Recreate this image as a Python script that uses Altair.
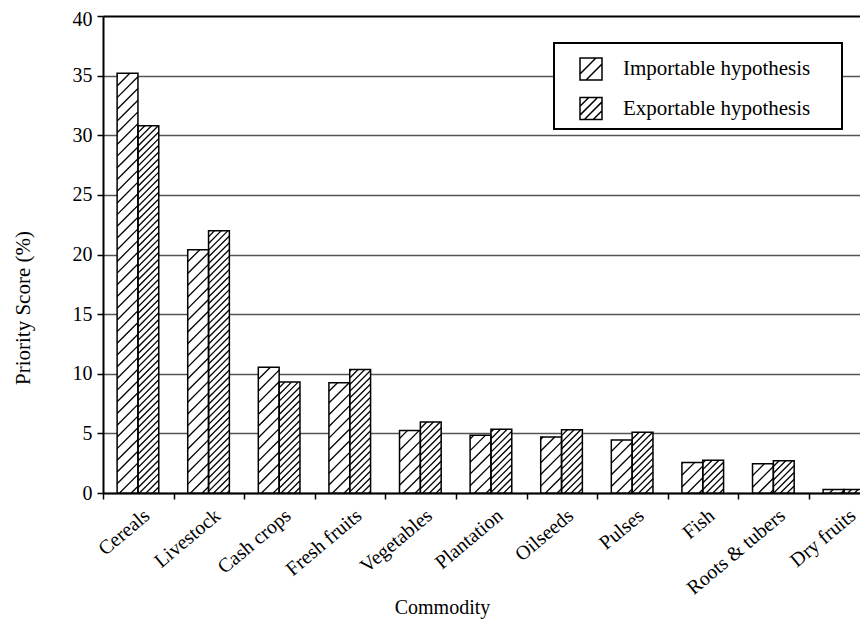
import json
import math

import altair as alt
import pandas as pd

# ---------------- data ----------------
categories = ["Cereals", "Livestock", "Cash crops", "Fresh fruits", "Vegetables",
              "Plantation", "Oilseeds", "Pulses", "Fish", "Roots & tubers", "Dry fruits"]
series = ["Importable hypothesis", "Exportable hypothesis"]
importable = [35.2, 20.4, 10.55, 9.25, 5.25, 4.85, 4.7, 4.45, 2.55, 2.45, 0.3]
exportable = [30.8, 22.0, 9.3, 10.35, 5.95, 5.35, 5.3, 5.1, 2.75, 2.7, 0.3]
y_ticks = [0, 5, 10, 15, 20, 25, 30, 35, 40]

# ---------------- layout / style ----------------
FONT = "Liberation Serif"
W, H = 757, 477            # plot area (right part of the figure is cut by the window)
GROUP_PX = 70.6            # pixel width of one commodity group
XMAX = W / GROUP_PX
YMAX = 40
PX_X = GROUP_PX
PX_Y = H / YMAX
BAR_START = 0.2
BAR_W = 0.295
HATCH_GAP = [11.7, 6.7]    # vertical distance between hatch lines (px)

rows = []
for i, cat in enumerate(categories):
    for s, vals in enumerate([importable, exportable]):
        x0 = i + BAR_START + s * BAR_W
        rows.append(dict(category=cat, series=series[s], value=vals[i], x0=x0, x1=x0 + BAR_W))
bars = pd.DataFrame(rows)

# hatch segments (45 deg "/"), computed in data units from the bar values
hatch = []
for r in rows:
    s = series.index(r["series"])
    d = HATCH_GAP[s]
    w = (r["x1"] - r["x0"]) * PX_X
    h = r["value"] * PX_Y
    xpx = r["x0"] * PX_X
    k = math.floor((xpx - w) / d)
    while True:
        c = k * d - xpx
        k += 1
        if c >= h:
            break
        if c <= -w:
            continue
        if c >= 0:
            u0, v0 = 0.0, c
        else:
            u0, v0 = -c, 0.0
        if w + c <= h:
            u1, v1 = w, w + c
        else:
            u1, v1 = h - c, h
        hatch.append(dict(series=r["series"],
                          hx=r["x0"] + u0 / PX_X, hy=v0 / PX_Y,
                          hx2=r["x0"] + u1 / PX_X, hy2=v1 / PX_Y))
hatch_df = pd.DataFrame(hatch)

# legend symbol paths (square + hatch lines) in [-1, 1] space
sq = "M-1,-1L1,-1L1,1L-1,1Z"
path_imp = sq + "M-1,0.45L0.45,-1M-0.45,1L1,-0.45"
path_exp = sq + "M-1,-0.2L-0.2,-1M-1,0.6L0.6,-1M-0.6,1L1,-0.6M0.2,1L1,0.2"

xscale = alt.Scale(domain=[0, XMAX], nice=False, zero=False)
yscale = alt.Scale(domain=[0, YMAX], nice=False)

x_axis = alt.Axis(
    values=list(range(len(categories))),
    labelExpr=json.dumps(categories) + "[datum.value]",
    labelAngle=-40, labelOffset=GROUP_PX / 2 + 2, labelPadding=6,
    labelFlush=False, labelOverlap=False,
    labelFont=FONT, labelFontSize=20, labelColor="black",
    tickSize=6, tickWidth=1.5, tickColor="black",
    domainColor="black", domainWidth=2, grid=False,
    titleFont=FONT, titleFontSize=20, titleFontWeight="normal", titleColor="black",
    titleX=339, titleY=120, titleAlign="center", titleBaseline="alphabetic",
)
y_axis = alt.Axis(
    values=y_ticks, grid=True,
    gridColor={"condition": {"test": "datum.value === 40", "value": "black"}, "value": "#555555"},
    gridWidth={"condition": {"test": "datum.value === 40", "value": 2}, "value": 1.3},
    domainColor="black", domainWidth=2,
    tickSize=6, tickWidth=1.5, tickColor="black",
    labelFont=FONT, labelFontSize=20, labelColor="black", labelPadding=5,
    labelOffset={"condition": {"test": "datum.value === 40", "value": 3}, "value": 0},
    titleFont=FONT, titleFontSize=21, titleFontWeight="normal", titleColor="black",
    titleX=-74, titleY=291.5, titleAngle=270, titleAlign="center", titleBaseline="alphabetic",
)

bar_fill = alt.Chart(bars).mark_rect(fill="white", clip=True).encode(
    x=alt.X("x0:Q", scale=xscale, axis=x_axis, title="Commodity"),
    x2="x1:Q",
    y=alt.Y("value:Q", scale=yscale, axis=y_axis, title="Priority Score (%)"),
    y2=alt.datum(0),
)
hatch_layer = alt.Chart(hatch_df).mark_rule(color="black", strokeWidth=1.3, clip=True).encode(
    x="hx:Q", x2="hx2:Q", y="hy:Q", y2="hy2:Q",
)
outline = alt.Chart(bars).mark_rect(fillOpacity=0, stroke="black", strokeWidth=1.5, clip=True).encode(
    x="x0:Q", x2="x1:Q", y="value:Q", y2=alt.datum(0),
)
legend_box = alt.Chart(pd.DataFrame({"a": [0]})).mark_rect(
    fill="white", stroke="black", strokeWidth=2
).encode(x=alt.value(451), x2=alt.value(739), y=alt.value(27), y2=alt.value(113))

legend_layer = alt.Chart(bars).transform_filter("datum.value < 0").mark_point(
    filled=False, color="black", strokeWidth=1.5, size=484, opacity=1
).encode(
    shape=alt.Shape(
        "series:N",
        scale=alt.Scale(domain=series, range=[path_imp, path_exp]),
        legend=alt.Legend(
            title=None, orient="none", legendX=476, legendY=41, padding=0,
            symbolSize=484, symbolStrokeWidth=1.5, symbolStrokeColor="black",
            labelFont=FONT, labelFontSize=21, labelColor="black", labelLimit=400,
            labelOffset=20, rowPadding=11.5,
        ),
    )
)

chart = alt.layer(bar_fill, hatch_layer, outline, legend_box, legend_layer).properties(
    width=W, height=H,
    padding={"left": 95, "top": 8, "right": 0, "bottom": 126},
    autosize=alt.AutoSizeParams(type="none"),
).configure_view(stroke=None)

chart.save("out.html", embed_options={"renderer": "svg", "actions": False})
